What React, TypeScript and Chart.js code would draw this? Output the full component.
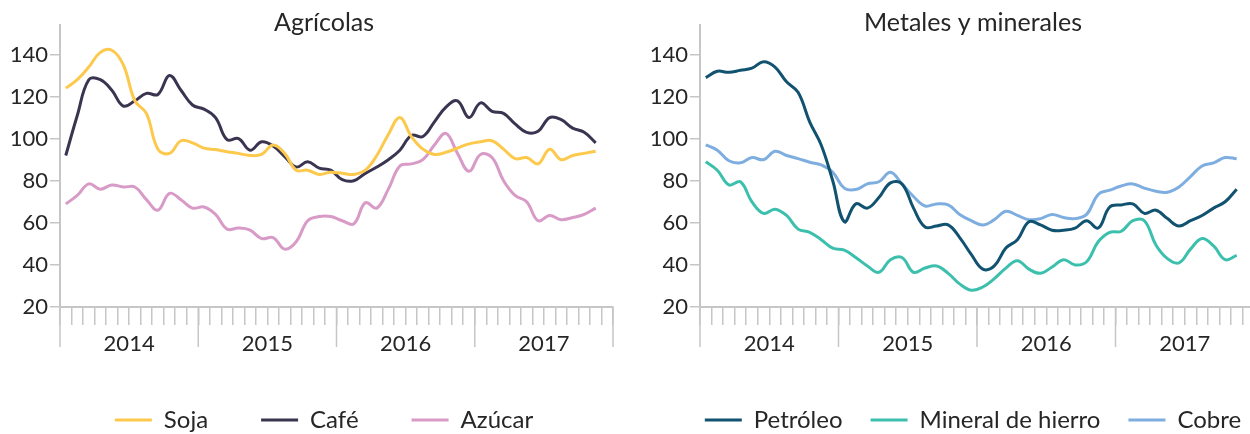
import React, { useEffect, useRef } from 'react';
import { Chart, registerables } from 'chart.js';

Chart.register(...registerables);

// ---------- data ----------
const yearLabels = ['2014', '2015', '2016', '2017'];
const yTickValues = [20, 40, 60, 80, 100, 120, 140];

const soja = [124, 128, 134, 141, 142, 135, 118, 112, 95, 93, 99, 98, 95.5, 94.8, 93.8, 93, 92, 92.5, 97, 93, 85, 85, 83, 84, 83.5, 83, 85, 92, 102, 110, 101, 95, 92.5, 93.5, 95.5, 97.5, 98.5, 99, 95, 90.5, 91, 88, 95, 90, 92, 93, 94];
const cafe = [92, 111, 128, 128, 123, 115.5, 118, 121.5, 121, 130, 123, 116, 114, 110, 99.5, 100, 94.5, 98.5, 96.5, 91.5, 86.5, 89, 86, 85, 80.5, 80, 83.5, 86.5, 90, 94.5, 101.5, 101, 108, 115, 118, 110, 117, 113, 112, 107, 103, 103.5, 110, 109, 105, 103, 98];
const azucar = [69, 73, 78.5, 76, 78, 77, 77, 71, 66, 74, 71, 67, 67.5, 64, 57, 57.5, 56.5, 52.5, 53, 47.5, 51, 61, 63, 63, 61, 59.5, 69.5, 67, 76, 87, 88, 90, 97, 102.5, 93, 84.5, 92.5, 91, 80, 73, 70, 61, 63.5, 61.5, 62.5, 64, 67];

const petroleo = [129, 132, 131.5, 132.5, 133.5, 136.5, 134, 127, 122, 108, 97, 80, 60.5, 69, 67, 72, 79, 78.5, 67, 58, 58.5, 59, 53, 45, 38, 39.5, 48, 52, 60.5, 59, 56.5, 56.5, 57.5, 61, 57.5, 67.5, 68.5, 69, 64.5, 66, 62, 58.5, 61, 63.5, 67, 70, 76];
const mineral = [89, 85, 78, 79.5, 70, 64.5, 66.5, 63.5, 57, 55.5, 52, 48, 47, 43.5, 39.5, 36.5, 42.5, 43.5, 36.5, 38.5, 39.5, 36, 31, 28, 29.5, 33.5, 38.5, 42, 38, 36, 39, 42.5, 40, 41.5, 51, 55.5, 56, 61, 61, 49.5, 43, 41, 47.5, 52.5, 49, 42.5, 44.5];
const cobre = [97, 94.5, 89.5, 88.5, 91, 90, 94, 92, 90.5, 88.8, 87.5, 84, 76.5, 75.8, 78.5, 79.5, 84, 78.5, 72.5, 68, 69, 68.5, 64, 61, 59, 61.5, 65.5, 63.5, 61.5, 62, 64, 62.5, 62, 64, 73.5, 75.5, 77.5, 78.5, 76.5, 75, 74.5, 77, 82, 87, 88.5, 91, 90.5];

// ---------- style ----------
const FONT = 'Lato, "Open Sans", sans-serif';
const TEXT = '#262626';
const AXIS = '#c6c6c6';

Chart.defaults.font.family = FONT;
Chart.defaults.color = TEXT;

type Series = { label: string; data: number[]; color: string };

const monthCount = yearLabels.length * 12;
const toPoints = (vals: number[]) => vals.map((v, i) => ({ x: i + 0.5, y: v }));

const majorTicksPlugin = {
  id: 'majorTicks',
  afterDraw(chart: any) {
    const s = chart.scales.x;
    if (!s) return;
    const ctx = chart.ctx;
    ctx.save();
    ctx.strokeStyle = AXIS;
    ctx.lineWidth = 1.5;
    for (let k = 0; k <= yearLabels.length; k++) {
      const px = s.getPixelForValue(k * 12);
      ctx.beginPath();
      ctx.moveTo(px, s.top);
      ctx.lineTo(px, s.top + 40);
      ctx.stroke();
    }
    ctx.restore();
  },
};

function makeConfig(
  title: string,
  series: Series[],
  o: { yWidth: number; rightWidth: number; legendPadding: number; legendMax: number; xHeight: number }
): any {
  return {
    type: 'line',
    data: {
      datasets: series.map((s) => ({
        label: s.label,
        data: toPoints(s.data),
        borderColor: s.color,
        backgroundColor: s.color,
        borderWidth: 3,
        pointRadius: 0,
        tension: 0.4,
        fill: false,
      })),
    },
    options: {
      responsive: false,
      animation: false,
      layout: { padding: 0 },
      plugins: {
        title: {
          display: true,
          text: title,
          color: TEXT,
          font: { size: 25, weight: 'normal', family: FONT },
          padding: { top: 8, bottom: -13 },
        },
        legend: {
          display: true,
          position: 'bottom',
          maxHeight: o.legendMax,
          labels: {
            boxWidth: 37,
            boxHeight: 3,
            padding: o.legendPadding,
            color: TEXT,
            font: { size: 24, family: FONT },
            generateLabels: (chart: any) =>
              Chart.defaults.plugins.legend.labels
                .generateLabels(chart)
                .map((l: any) => ({ ...l, lineWidth: 0, fillStyle: l.strokeStyle })),
          },
        },
        tooltip: { enabled: false },
      },
      scales: {
        x: {
          type: 'linear',
          position: 'bottom',
          min: 0,
          max: monthCount,
          afterBuildTicks: (s: any) => {
            s.ticks = Array.from({ length: monthCount + 1 }, (_, i) => ({ value: i }));
          },
          afterFit: (s: any) => {
            s.height = o.xHeight;
          },
          ticks: {
            autoSkip: false,
            maxRotation: 0,
            minRotation: 0,
            padding: 6,
            color: TEXT,
            font: { size: 22, family: FONT },
            callback: (v: any) => {
              const n = Number(v);
              return n % 12 === 6 ? yearLabels[(n - 6) / 12] ?? '' : '';
            },
          },
          grid: { display: true, drawOnChartArea: false, drawTicks: true, tickLength: 18, color: AXIS, lineWidth: 1.5 },
          border: { display: true, color: AXIS, width: 2 },
        },
        y: {
          type: 'linear',
          position: 'left',
          min: 20,
          max: 154,
          afterBuildTicks: (s: any) => {
            s.ticks = yTickValues.map((v) => ({ value: v }));
          },
          afterFit: (s: any) => {
            s.width = o.yWidth;
          },
          ticks: { padding: 2, color: TEXT, font: { size: 22, family: FONT } },
          grid: { display: true, drawOnChartArea: false, drawTicks: true, tickLength: 10, color: AXIS, lineWidth: 1.5 },
          border: { display: true, color: AXIS, width: 2 },
        },
        yR: {
          type: 'linear',
          position: 'right',
          display: true,
          afterFit: (s: any) => {
            s.width = o.rightWidth;
          },
          ticks: { display: false },
          grid: { display: false },
          border: { display: false },
        },
      },
    },
    plugins: [majorTicksPlugin],
  };
}

function ChartCanvas({ config, left, width, height }: { config: () => any; left: number; width: number; height: number }) {
  const ref = useRef<HTMLCanvasElement>(null);
  useEffect(() => {
    const chart = new Chart(ref.current as HTMLCanvasElement, config());
    return () => chart.destroy();
  }, []);
  return (
    <canvas
      ref={ref}
      width={width}
      height={height}
      style={{ position: 'absolute', left, top: 0, width, height, display: 'block' }}
    />
  );
}

export default function App() {
  return (
    <div style={{ position: 'absolute', left: 0, top: 0, width: 1250, height: 434, overflow: 'hidden', background: '#fff' }}>
      <ChartCanvas
        left={0}
        width={648}
        height={434}
        config={() =>
          makeConfig(
            'Agrícolas',
            [
              { label: 'Soja', data: soja, color: '#fdc94c' },
              { label: 'Café', data: cafe, color: '#3b3451' },
              { label: 'Azúcar', data: azucar, color: '#d89ac6' },
            ],
            { yWidth: 60, rightWidth: 35, legendPadding: 53, legendMax: 79, xHeight: 48 }
          )
        }
      />
      <ChartCanvas
        left={648}
        width={650}
        height={434}
        config={() =>
          makeConfig(
            'Metales y minerales',
            [
              { label: 'Petróleo', data: petroleo, color: '#105270' },
              { label: 'Mineral de hierro', data: mineral, color: '#3cc0ad' },
              { label: 'Cobre', data: cobre, color: '#7eaee0' },
            ],
            { yWidth: 52, rightWidth: 44, legendPadding: 28, legendMax: 54, xHeight: 73 }
          )
        }
      />
    </div>
  );
}
